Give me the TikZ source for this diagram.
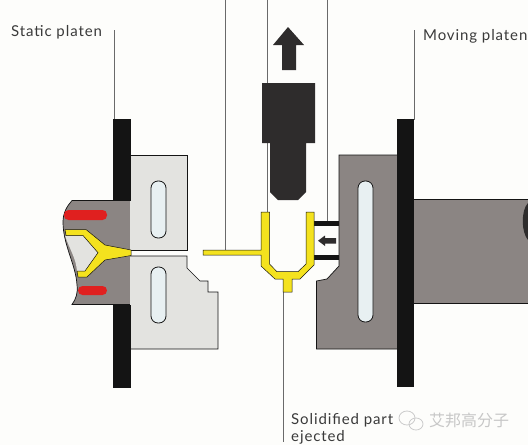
\documentclass[tikz,border=0pt]{standalone}
\usepackage{fontspec}
\setmainfont{Lato}[LetterSpace=6]
\newfontfamily\cjk{Noto Sans CJK SC}
\definecolor{paper}{HTML}{FDFDFB}
\definecolor{steel}{HTML}{8B8583}
\definecolor{pale}{HTML}{E3E3E0}
\definecolor{slot}{HTML}{E8F0F2}
\definecolor{ink}{HTML}{141414}
\definecolor{tool}{HTML}{2E2C2C}
\definecolor{melt}{HTML}{F4E21E}
\definecolor{heater}{HTML}{E0201F}
\definecolor{leader}{HTML}{6A6A6A}
\definecolor{label}{HTML}{3A3A3A}
\tikzset{
  platen/.style={fill=ink,draw=none},
  edge/.style={draw=ink,line width=.7pt,line join=miter},
  moldslot/.style={fill=slot,draw=ink,line width=.8pt,rounded corners=7pt},
  plastic/.style={fill=melt,draw=ink,line width=.5pt,line join=miter},
  hot/.style={fill=heater,draw=none,rounded corners=4.5pt},
  lead/.style={draw=leader,line width=.7pt},
  solidtool/.style={fill=tool,draw=none},
  tag/.style={inner sep=0pt,anchor=base west,text=label,font=\fontsize{15}{17}\selectfont},
  wmtext/.style={inner sep=0pt,anchor=base west,text=black!22,font=\fontsize{16}{18}\selectfont\cjk}
}
\begin{document}
\begin{tikzpicture}[x=1pt,y=-1pt]
\useasboundingbox (0,0) rectangle (528,445);
\clip (0,0) rectangle (528,445);
\fill[paper] (0,0) rectangle (528,445);

% labels
\node[tag] (static) at (11,36) {Static platen};
\node[tag] (moving) at (423,40) {Moving platen};
\node[tag] (solid1) at (291,424) {Solidified part};
\node[tag] (solid2) at (291,441) {ejected};

% watermark
\draw[black!20,line width=.8pt] (407,418) ellipse (8 and 7);
\draw[black!20,line width=.8pt] (416,424) ellipse (7 and 6);
\node[wmtext] (wm) at (429,426) {艾邦高分子};

% leaders
\coordinate (a1) at (114,30);  \coordinate (a2) at (114,120);
\coordinate (b1) at (414,30);  \coordinate (b2) at (414,120);
\coordinate (c1) at (225,0);   \coordinate (c2) at (225,250);
\coordinate (d1) at (267,0);   \coordinate (d2) at (267,212);
\coordinate (e1) at (327,0);   \coordinate (e2) at (327,222);
\coordinate (f1) at (283.5,292); \coordinate (f2) at (283.5,442);
\draw[lead] (a1) -- (a2);
\draw[lead] (b1) -- (b2);
\draw[lead] (c1) -- (c2);
\draw[lead] (d1) -- (d2);
\draw[lead] (e1) -- (e2);
\draw[lead] (f1) -- (f2);

% nozzle
\fill[steel] (131,200.5) -- (72,200.5) .. controls (67,206) and (63,213) .. (63,222)
  .. controls (63,245) and (76,265) .. (77,285) .. controls (78,293) and (76,299) .. (72,304.5) -- (131,304.5) -- cycle;
\draw[edge] (131,200.5) -- (72,200.5) .. controls (67,206) and (63,213) .. (63,222)
  .. controls (63,245) and (76,265) .. (77,285) .. controls (78,293) and (76,299) .. (72,304.5) -- (131,304.5);
\fill[pale] (65,235.5) -- (83,235.5) -- (98,252.7) -- (85,271) -- (77,271)
  .. controls (76,258) and (69,248) .. (65,235.5) -- cycle;
\fill[hot] (64,210) -- (107,210) -- (107,220) -- (64,220) -- cycle;
\fill[hot] (78,286) -- (107,286) -- (107,295) -- (78,295) -- cycle;

% static mold
\fill[pale] (130,155) -- (187.5,155) -- (187.5,250) -- (130,250) -- cycle;
\draw[edge] (130,155) -- (187.5,155) -- (187.5,250) -- (130,250);
\fill[pale] (130,256) -- (187,256) -- (187,268) -- (200,281) -- (208,281) -- (208,292)
  -- (218,292) -- (218,349) -- (130,349) -- cycle;
\draw[edge] (130,256) -- (187,256) -- (187,268) -- (200,281) -- (208,281) -- (208,292)
  -- (218,292) -- (218,349) -- (130,349);
\draw[moldslot] (151,181) rectangle (166,238);
\draw[moldslot] (151,267) rectangle (166,323);
\fill[platen] (113,119) rectangle (131,200.5);
\fill[platen] (113,304.5) rectangle (131,388);

% sprue
\draw[plastic] (131,250) -- (105,245) -- (86,229.5) -- (65,229.5) -- (66,235.5) -- (83,235.5)
  -- (98,252.7) -- (85,271) -- (77,271) -- (78,277) -- (87,277) -- (105,260) -- (131,255.5) -- cycle;

% moving mold
\fill[ink] (314,221) rectangle (340,226);
\fill[ink] (314,255) rectangle (340,260);
\fill[steel] (339,155) -- (397,155) -- (397,349) -- (316.5,349) -- (316.5,281) -- (327,279)
  -- (339,266) -- cycle;
\draw[edge] (397,155) -- (339,155) -- (339,266) -- (327,279) -- (316.5,281) -- (316.5,349) -- (397,349);
\draw[moldslot] (358,181) rectangle (373,322);
\fill[tool] (318,240.7) -- (325,235.5) -- (325,238) -- (336,238) -- (336,243.5) -- (325,243.5) -- (325,246) -- cycle;

% shaft and platen
\fill[steel] (414,199) rectangle (528,303);
\draw[edge] (414,199) -- (528,199);
\draw[edge] (414,303) -- (528,303);
\fill[tool] (528,203) .. controls (521,210) and (521,232) .. (528,240) -- cycle;
\fill[platen] (397,119) rectangle (414,387);

% moulded part
\draw[plastic] (203,250) -- (261,250) -- (261,212) -- (269.5,212) -- (269.5,264) -- (277,271.7)
  -- (298,271.7) -- (306,264) -- (306,212) -- (314,212) -- (314,265) -- (300,279) -- (292,279)
  -- (292,292) -- (283,292) -- (283,279) -- (275,279) -- (261,266) -- (261,255) -- (203,255) -- cycle;

% ejector
\fill[solidtool] (262,83) -- (315,83) -- (315,143) -- (306,143) -- (306,192) -- (298,200) -- (278,200)
  -- (270,192) -- (270,143) -- (262,143) -- cycle;
\fill[solidtool] (288,27) -- (304,45) -- (296,45) -- (296,70) -- (282,70) -- (282,45) -- (273,45) -- cycle;
\end{tikzpicture}
\end{document}
